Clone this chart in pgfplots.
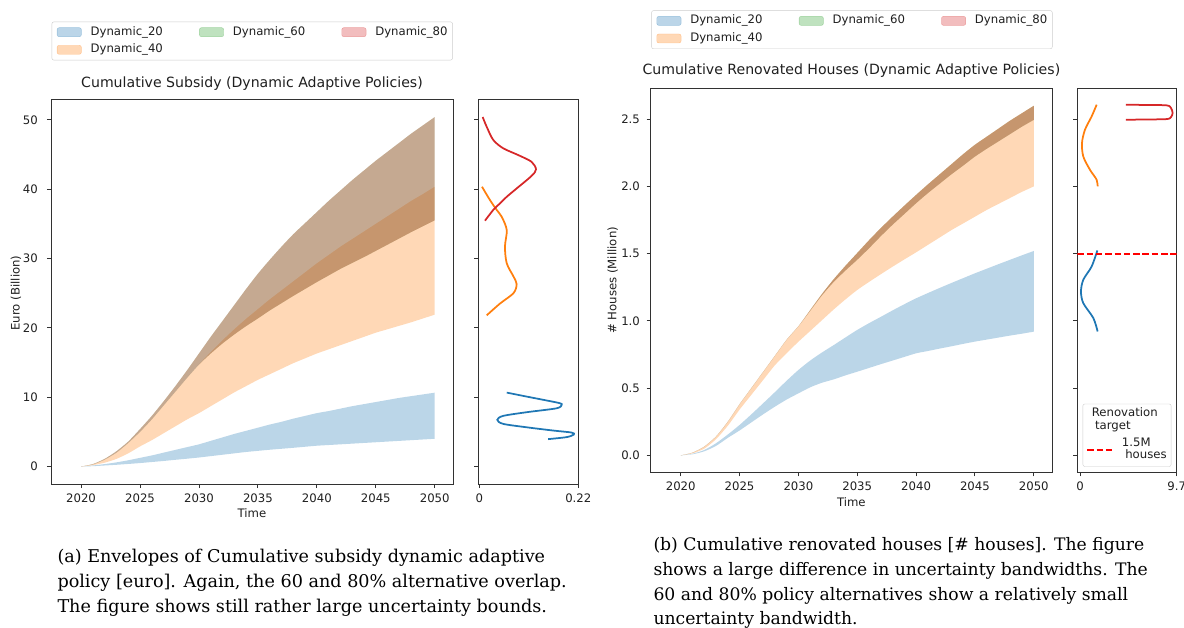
\documentclass[border=0pt]{standalone}
\usepackage{fontspec}
\setmainfont{DejaVu Sans}
\newfontfamily\capfont{DejaVu Serif}
\usepackage{pgfplots}
\pgfplotsset{compat=1.18}
\usepackage{pgfplotstable}
\usepgfplotslibrary{fillbetween}

\definecolor{tabblue}{RGB}{31,119,180}
\definecolor{taborange}{RGB}{255,127,14}
\definecolor{tabgreen}{RGB}{44,160,44}
\definecolor{tabred}{RGB}{214,39,40}
\definecolor{spine}{RGB}{50,50,50}

\newcommand\chartfont{\fontsize{11.7}{14}\selectfont}
\newcommand\capsizea{\capfont\fontsize{17.6}{21}\selectfont}
\newcommand\capsizeb{\capfont\fontsize{17.2}{21}\selectfont}

% cumulative subsidy envelopes (billion euro): lower/upper bounds per policy
\pgfplotstableread{
t    blo   bup    olo    oup    rlo    rup
2020 0     0      0      0      0      0
2021 0.05  0.15   0.2    0.3    0.3    0.35
2022 0.15  0.35   0.55   1.0    1.0    1.1
2023 0.25  0.6    1.1    2.0    2.0    2.2
2024 0.37  0.9    1.9    3.4    3.4    3.6
2025 0.5   1.25   2.9    5.0    5.0    5.4
2026 0.65  1.6    3.8    6.8    6.8    7.3
2027 0.8   2.0    4.8    8.8    8.8    9.4
2028 0.97  2.4    5.8    10.8   10.8   11.6
2029 1.13  2.8    6.8    12.8   12.8   13.9
2030 1.3   3.2    7.7    14.7   14.7   16.3
2031 1.5   3.7    8.7    16.5   16.3   18.7
2032 1.7   4.2    9.7    18.2   17.75  21.0
2033 1.9   4.7    10.7   19.8   19.05  23.3
2034 2.1   5.15   11.6   21.3   20.25  25.6
2035 2.26  5.6    12.5   22.7   21.35  27.8
2036 2.42  6.05   13.3   24.1   22.5   29.8
2037 2.56  6.45   14.1   25.4   23.55  31.7
2038 2.7   6.9    14.9   26.7   24.6   33.5
2039 2.85  7.3    15.6   28.0   25.6   35.1
2040 3.0   7.7    16.3   29.3   26.6   36.7
2041 3.1   8.0    16.9   30.5   27.55  38.3
2042 3.2   8.35   17.5   31.7   28.5   39.8
2043 3.3   8.7    18.1   32.8   29.35  41.3
2044 3.4   9.0    18.7   33.9   30.2   42.7
2045 3.5   9.3    19.3   35.0   31.1   44.1
2046 3.6   9.6    19.8   36.1   32.0   45.4
2047 3.7   9.9    20.3   37.2   32.9   46.7
2048 3.8   10.15  20.8   38.3   33.8   48.0
2049 3.9   10.4   21.35  39.3   34.65  49.2
2050 4.0   10.65  21.9   40.35  35.5   50.4
}\subsidy

% cumulative renovated houses envelopes (million)
\pgfplotstableread{
t    blo    bup    olo    oup    rlo    rup
2020 0      0      0      0      0      0
2021 0.008  0.012  0.015  0.02   0.02   0.02
2022 0.03   0.04   0.05   0.065  0.065  0.065
2023 0.07   0.09   0.12   0.14   0.14   0.14
2024 0.13   0.155  0.22   0.25   0.25   0.25
2025 0.185  0.226  0.34   0.38   0.38   0.38
2026 0.245  0.305  0.45   0.5    0.5    0.5
2027 0.305  0.387  0.56   0.62   0.62   0.62
2028 0.362  0.47   0.67   0.74   0.74   0.74
2029 0.415  0.555  0.76   0.86   0.86   0.86
2030 0.461  0.635  0.845  0.96   0.96   0.96
2031 0.506  0.705  0.925  1.08   1.075  1.08
2032 0.54   0.765  1.005  1.2    1.19   1.2
2033 0.565  0.82   1.085  1.31   1.29   1.31
2034 0.595  0.877  1.16   1.41   1.375  1.41
2035 0.622  0.933  1.23   1.505  1.455  1.505
2036 0.65   0.983  1.29   1.6    1.54   1.6
2037 0.678  1.03   1.347  1.69   1.63   1.69
2038 0.705  1.078  1.403  1.775  1.715  1.775
2039 0.732  1.124  1.457  1.857  1.795  1.857
2040 0.759  1.168  1.51   1.937  1.875  1.937
2041 0.776  1.207  1.565  2.015  1.95   2.015
2042 0.794  1.245  1.62   2.09   2.02   2.09
2043 0.811  1.282  1.675  2.165  2.09   2.165
2044 0.829  1.318  1.725  2.24   2.155  2.24
2045 0.846  1.354  1.775  2.31   2.222  2.31
2046 0.861  1.388  1.825  2.37   2.28   2.37
2047 0.876  1.422  1.87   2.43   2.335  2.43
2048 0.891  1.455  1.915  2.49   2.39   2.49
2049 0.905  1.488  1.96   2.545  2.445  2.545
2050 0.92   1.52   2.0    2.6    2.495  2.6
}\houses

% density of the 2050 end values (d = density, v = value)
\pgfplotstableread{
d      v
0.061  10.66
0.105  10.09
0.15   9.52
0.179  9.13
0.183  8.9
0.172  8.4
0.105  7.83
0.053  7.3
0.040  6.73
0.053  6.15
0.105  5.66
0.164  5.19
0.205  4.9
0.210  4.61
0.194  4.24
0.153  3.95
}\kdeSubB
\pgfplotstableread{
d      v
0.006  40.35
0.024  38.4
0.0387 37.0
0.05   36.0
0.061  34.1
0.057  31.7
0.061  29.3
0.076  27.4
0.083  26.3
0.076  25.0
0.046  23.5
0.0164 21.8
}\kdeSubO
\pgfplotstableread{
d      v
0.0075 50.4
0.0164 49.0
0.031  47.1
0.053  45.9
0.087  44.9
0.116  43.95
0.126  42.85
0.116  41.9
0.083  40.1
0.061  38.9
0.046  37.95
0.031  37.0
0.0127 35.45
}\kdeSubR

\pgfplotstableread{
d     v
1.74  1.524
1.17  1.405
0.33  1.306
0.10  1.219
0.33  1.132
1.34  1.021
1.77  0.921
}\kdeHouB
\pgfplotstableread{
d     v
1.67  2.608
1.17  2.521
0.50  2.422
0.20  2.323
0.33  2.223
1.00  2.124
1.67  2.05
1.77  2.0
}\kdeHouO
\pgfplotstableread{
d     v
4.61  2.608
6.50  2.606
8.69  2.603
9.13  2.583
9.29  2.546
9.13  2.516
8.69  2.501
6.50  2.498
4.61  2.496
}\kdeHouR

\pgfplotsset{
  mpl/.style={
    scale only axis,
    axis line style={spine, line width=0.9pt},
    tick align=outside, tick pos=left,
    major tick length=4.1pt,
    tick style={spine, line width=0.9pt},
    tick label style={font=\chartfont, text=black!88},
    label style={font=\chartfont, text=black!88},
    title style={font=\fontsize{14.1}{17}\selectfont, text=black!88, at={(0.5,1)}, anchor=base},
    xticklabel style={anchor=north, inner sep=0pt, yshift=-5.3pt},
    yticklabel style={anchor=east, inner sep=0pt, xshift=-4.9pt},
  },
  patch legend/.style={legend image code/.code={\draw[##1] (0pt,-4.5pt) rectangle (24.3pt,4.5pt);}},
  band legend/.style={
    legend columns=3, legend cell align=left,
    legend style={at={(0.0017,#1)}, anchor=north west, draw=black!20,
      rounded corners=2pt, fill=white, font=\chartfont, text=black!88,
      inner xsep=5pt, inner ysep=4.8pt, row sep=6.6pt,
      nodes={inner sep=0pt, text height=8.6pt, text depth=2.4pt},
      /tikz/every odd column/.append style={column sep=9pt},
      /tikz/every even column/.append style={column sep=36.3pt}},
  },
  edge/.style={draw=none, forget plot, smooth, tension=0.4},
  kde/.style={no markers, line width=1.75pt, smooth, tension=0.5},
}

\begin{document}
\begin{tikzpicture}

% ---------------- (a) cumulative subsidy ----------------
\begin{axis}[mpl, at={(51pt,143pt)}, anchor=south west,
  width=402pt, height=385pt,
  xmin=2017.45, xmax=2051.55, ymin=-2.52, ymax=53.0,
  xtick={2020,2025,2030,2035,2040,2045,2050},
  xticklabels={2020,2025,2030,2035,2040,2045,2050},
  ytick={0,10,20,30,40,50}, yticklabels={0,10,20,30,40,50},
  yticklabel style={xshift=-4.1pt},
  title={Cumulative Subsidy (Dynamic Adaptive Policies)},
  title style={yshift=5.9pt},
  xlabel={Time}, xlabel style={at={(axis description cs:0.5,0)}, anchor=base, yshift=-34pt},
  ylabel={Euro (Billion)}, ylabel style={at={(axis description cs:-0.0871,0.496)}, anchor=center},
  band legend=1.2008]
  \addplot[name path=sbl, edge] table[x=t, y=blo] {\subsidy};
  \addplot[name path=sbu, edge] table[x=t, y=bup] {\subsidy};
  \addplot[name path=sol, edge] table[x=t, y=olo] {\subsidy};
  \addplot[name path=sou, edge] table[x=t, y=oup] {\subsidy};
  \addplot[name path=srl, edge] table[x=t, y=rlo] {\subsidy};
  \addplot[name path=sru, edge] table[x=t, y=rup] {\subsidy};
  \addplot[fill=tabblue, fill opacity=0.3, draw=none, forget plot] fill between[of=sbl and sbu];
  \addplot[fill=taborange, fill opacity=0.3, draw=none, forget plot] fill between[of=sol and sou];
  \addplot[fill=tabgreen, fill opacity=0.3, draw=none, forget plot] fill between[of=srl and sru];
  \addplot[fill=tabred, fill opacity=0.3, draw=none, forget plot] fill between[of=srl and sru];
  \addlegendimage{patch legend, fill=tabblue, draw=tabblue, fill opacity=0.3, draw opacity=0.35}
  \addlegendentry{Dynamic\_20}
  \addlegendimage{patch legend, fill=tabgreen, draw=tabgreen, fill opacity=0.3, draw opacity=0.35}
  \addlegendentry{Dynamic\_60}
  \addlegendimage{patch legend, fill=tabred, draw=tabred, fill opacity=0.3, draw opacity=0.35}
  \addlegendentry{Dynamic\_80}
  \addlegendimage{patch legend, fill=taborange, draw=taborange, fill opacity=0.3, draw opacity=0.35}
  \addlegendentry{Dynamic\_40}
\end{axis}

\begin{axis}[mpl, at={(478.3pt,143pt)}, anchor=south west,
  width=100pt, height=385pt,
  xmin=-0.0022, xmax=0.22, ymin=-2.52, ymax=53.0,
  xtick={0,0.22}, xticklabels={0,0.22},
  ytick={0,10,20,30,40,50}, yticklabels={}]
  \addplot[kde, tabblue] table[x=d, y=v] {\kdeSubB};
  \addplot[kde, taborange] table[x=d, y=v] {\kdeSubO};
  \addplot[kde, tabred] table[x=d, y=v] {\kdeSubR};
\end{axis}

% ---------------- (b) cumulative renovated houses ----------------
\begin{axis}[mpl, at={(650.7pt,154.7pt)}, anchor=south west,
  width=401.3pt, height=384pt,
  xmin=2017.45, xmax=2051.55, ymin=-0.126, ymax=2.73,
  xtick={2020,2025,2030,2035,2040,2045,2050},
  xticklabels={2020,2025,2030,2035,2040,2045,2050},
  ytick={0,0.5,1,1.5,2,2.5}, yticklabels={0.0,0.5,1.0,1.5,2.0,2.5},
  yticklabel style={xshift=-1.6pt},
  title={Cumulative Renovated Houses (Dynamic Adaptive Policies)},
  title style={yshift=7.5pt},
  xlabel={Time}, xlabel style={at={(axis description cs:0.5,0)}, anchor=base, yshift=-34pt},
  ylabel={\# Houses (Million)}, ylabel style={at={(axis description cs:-0.0947,0.5)}, anchor=center},
  band legend=1.2029]
  \addplot[name path=hbl, edge] table[x=t, y=blo] {\houses};
  \addplot[name path=hbu, edge] table[x=t, y=bup] {\houses};
  \addplot[name path=hol, edge] table[x=t, y=olo] {\houses};
  \addplot[name path=hou, edge] table[x=t, y=oup] {\houses};
  \addplot[name path=hrl, edge] table[x=t, y=rlo] {\houses};
  \addplot[name path=hru, edge] table[x=t, y=rup] {\houses};
  \addplot[fill=tabblue, fill opacity=0.3, draw=none, forget plot] fill between[of=hbl and hbu];
  \addplot[fill=taborange, fill opacity=0.3, draw=none, forget plot] fill between[of=hol and hou];
  \addplot[fill=tabgreen, fill opacity=0.3, draw=none, forget plot] fill between[of=hrl and hru];
  \addplot[fill=tabred, fill opacity=0.3, draw=none, forget plot] fill between[of=hrl and hru];
  \addlegendimage{patch legend, fill=tabblue, draw=tabblue, fill opacity=0.3, draw opacity=0.35}
  \addlegendentry{Dynamic\_20}
  \addlegendimage{patch legend, fill=tabgreen, draw=tabgreen, fill opacity=0.3, draw opacity=0.35}
  \addlegendentry{Dynamic\_60}
  \addlegendimage{patch legend, fill=tabred, draw=tabred, fill opacity=0.3, draw opacity=0.35}
  \addlegendentry{Dynamic\_80}
  \addlegendimage{patch legend, fill=taborange, draw=taborange, fill opacity=0.3, draw opacity=0.35}
  \addlegendentry{Dynamic\_40}
\end{axis}

\begin{axis}[mpl, at={(1077.3pt,154.7pt)}, anchor=south west,
  width=99.4pt, height=384pt,
  xmin=-0.27, xmax=9.7, ymin=-0.126, ymax=2.73,
  xtick={0,9.7}, xticklabels={0,9.7},
  ytick={0,0.5,1,1.5,2,2.5}, yticklabels={}]
  \addplot[kde, tabblue] table[x=d, y=v] {\kdeHouB};
  \addplot[kde, taborange] table[x=d, y=v] {\kdeHouO};
  \addplot[kde, tabred] table[x=d, y=v] {\kdeHouR};
  % renovation target of 1.5 million houses
  \addplot[red, line width=1.75pt, dash pattern=on 6.5pt off 2.8pt] coordinates {(-0.27,1.5) (9.7,1.5)};
  \node[draw=black!20, rounded corners=2pt, fill=white, anchor=south west,
        inner xsep=4.5pt, inner ysep=4pt, font=\fontsize{11.7}{12.6}\selectfont, text=black!88]
    at (rel axis cs:0.054,0.0146) {%
    \begin{tabular}{@{}l@{}}
      \hspace{4.4pt}Renovation\\
      \hspace{7.7pt}target\\[4pt]
      \textcolor{red}{\rule[2.3pt]{6.5pt}{1.75pt}\hspace{2.8pt}\rule[2.3pt]{6.5pt}{1.75pt}\hspace{2.8pt}\rule[2.3pt]{6.5pt}{1.75pt}}\hspace{9.5pt}%
      \begin{tabular}[c]{@{}l@{}}1.5M\\ \hspace{3.3pt}houses\end{tabular}
    \end{tabular}};
\end{axis}

% ---------------- captions ----------------
\node[anchor=base west, inner sep=0pt, font=\capsizea] at (57.3pt,65pt) {(a) Envelopes of Cumulative subsidy dynamic adaptive};
\node[anchor=base west, inner sep=0pt, font=\capsizea] at (57.3pt,40pt) {policy [euro]. Again, the 60 and 80\% alternative overlap.};
\node[anchor=base west, inner sep=0pt, font=\capsizea] at (57.3pt,15pt) {The figure shows still rather large uncertainty bounds.};

\node[anchor=base west, inner sep=0pt, font=\capsizeb] at (653.3pt,76.7pt) {(b) Cumulative renovated houses [\# houses]. The figure};
\node[anchor=base west, inner sep=0pt, font=\capsizeb] at (653.3pt,51.7pt) {shows a large difference in uncertainty bandwidths. The};
\node[anchor=base west, inner sep=0pt, font=\capsizeb] at (653.3pt,26.7pt) {60 and 80\% policy alternatives show a relatively small};
\node[anchor=base west, inner sep=0pt, font=\capsizeb] at (653.3pt,2.7pt) {uncertainty bandwidth.};

% page covers exactly the figure area
\pgfresetboundingbox
\useasboundingbox (0,0) rectangle (1184pt,627pt);
\end{tikzpicture}
\end{document}
